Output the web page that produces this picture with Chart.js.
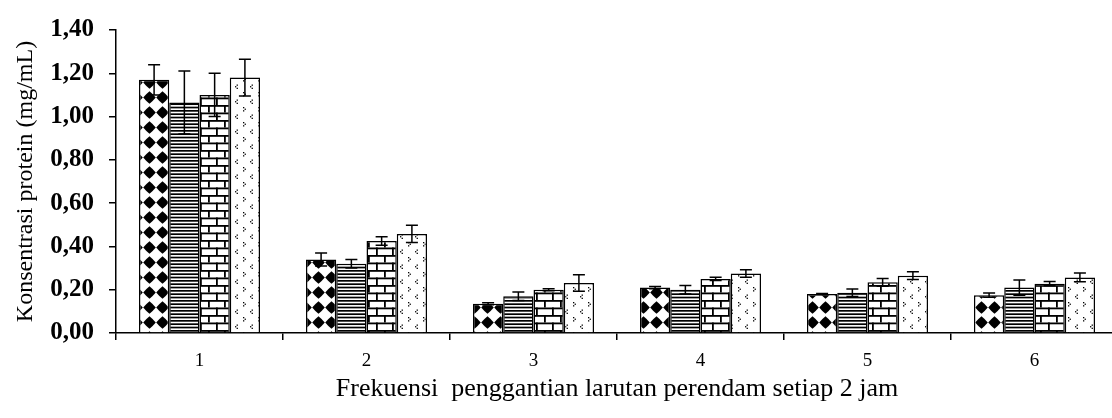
<!DOCTYPE html>
<html>
<head>
<meta charset="utf-8">
<script src="https://cdn.jsdelivr.net/npm/chart.js@4/dist/chart.umd.min.js"></script>
<style>
  html, body { margin: 0; padding: 0; background: #fff; overflow: hidden; }
  /* plot runs a few px past the right edge of the window, like the original */
  #wrap { width: 1118px; height: 418px; }
</style>
</head>
<body>
<div id="wrap"><canvas id="myChart"></canvas></div>
<script>
// ---- data ----
const categories = ['1', '2', '3', '4', '5', '6'];

const seriesA = [1.17, 0.34, 0.135, 0.21, 0.18, 0.175];
const seriesB = [1.065, 0.32, 0.17, 0.20, 0.186, 0.21];
const seriesC = [1.10, 0.425, 0.20, 0.25, 0.234, 0.228];
const seriesD = [1.18, 0.458, 0.231, 0.275, 0.265, 0.257];

const errA = [0.07, 0.03, 0.005, 0.005, 0.003, 0.01];
const errB = [0.145, 0.02, 0.02, 0.02, 0.017, 0.035];
const errC = [0.10, 0.02, 0.005, 0.008, 0.018, 0.01];
const errD = [0.085, 0.04, 0.038, 0.017, 0.018, 0.02];

const yTicks = [0, 0.2, 0.4, 0.6, 0.8, 1.0, 1.2, 1.4];

// =======================
// FILL PATTERNS
// =======================
function tile(w, h) {
    const c = document.createElement('canvas');
    c.width = w; c.height = h;
    const g = c.getContext('2d');
    g.fillStyle = '#fff';
    g.fillRect(0, 0, w, h);
    g.fillStyle = '#000';
    return [c, g];
}

function diamondPattern(ctx) {
    const [c, g] = tile(13, 15);
    const cx = 6.5, cy = 7.5, r = 6.3;
    const k = r * 0.55;
    g.beginPath();
    g.moveTo(cx, cy - r);
    g.quadraticCurveTo(cx + k, cy - k, cx + r, cy);
    g.quadraticCurveTo(cx + k, cy + k, cx, cy + r);
    g.quadraticCurveTo(cx - k, cy + k, cx - r, cy);
    g.quadraticCurveTo(cx - k, cy - k, cx, cy - r);
    g.fill();
    return ctx.createPattern(c, 'repeat');
}

function stripePattern(ctx) {
    const [c, g] = tile(4, 10);
    g.fillRect(0, 0, 4, 1.7);
    g.fillRect(0, 3.33, 4, 1.7);
    g.fillRect(0, 6.67, 4, 1.7);
    return ctx.createPattern(c, 'repeat');
}

function brickPattern(ctx) {
    const [c, g] = tile(16, 15);
    g.fillRect(0, 0, 16, 1.8);
    g.fillRect(0, 7.5, 16, 1.8);
    g.fillRect(0, 0, 1.8, 7.5);
    g.fillRect(8, 7.5, 1.8, 7.5);
    return ctx.createPattern(c, 'repeat');
}

function dotPattern(ctx) {
    const [c, g] = tile(15, 15);
    // ">" mark
    g.fillRect(3, 2, 1.3, 1.3);
    g.fillRect(4.6, 3.6, 1.3, 1.3);
    g.fillRect(3, 5.2, 1.3, 1.3);
    // "<" mark
    g.fillRect(11.6, 9.5, 1.3, 1.3);
    g.fillRect(10, 11.1, 1.3, 1.3);
    g.fillRect(11.6, 12.7, 1.3, 1.3);
    return ctx.createPattern(c, 'repeat');
}

// =======================
// ERROR BARS
// =======================
const errorBars = {
    id: 'errorBars',
    afterDatasetsDraw(chart) {
        const ctx = chart.ctx;
        const y = chart.scales.y;
        ctx.save();
        ctx.strokeStyle = '#000';
        ctx.lineWidth = 1.5;
        chart.data.datasets.forEach((ds, i) => {
            const meta = chart.getDatasetMeta(i);
            meta.data.forEach((bar, j) => {
                const v = ds.data[j], e = ds.err[j];
                const top = y.getPixelForValue(v + e);
                const bot = y.getPixelForValue(v - e);
                const x = bar.x;
                ctx.beginPath();
                ctx.moveTo(x, top); ctx.lineTo(x, bot);
                ctx.moveTo(x - 6, top); ctx.lineTo(x + 6, top);
                ctx.moveTo(x - 6, bot); ctx.lineTo(x + 6, bot);
                ctx.stroke();
            });
        });
        ctx.restore();
    }
};

// =======================
// CHART
// =======================
const canvas = document.getElementById('myChart');
const ctx = canvas.getContext('2d');

const serif = "'Liberation Serif', 'Times New Roman', serif";

function barSet(data, err, pattern) {
    return {
        data,
        err,
        backgroundColor: pattern,
        borderColor: '#000',
        borderWidth: 1.5,
        barPercentage: 1,
        categoryPercentage: 0.725
    };
}

new Chart(ctx, {
    type: 'bar',
    data: {
        labels: categories,
        datasets: [
            barSet(seriesA, errA, diamondPattern(ctx)),
            barSet(seriesB, errB, stripePattern(ctx)),
            barSet(seriesC, errC, brickPattern(ctx)),
            barSet(seriesD, errD, dotPattern(ctx))
        ]
    },
    options: {
        responsive: true,
        maintainAspectRatio: false,
        animation: false,
        layout: { padding: { top: 24, right: 0, bottom: 0, left: 0 } },
        plugins: { legend: { display: false }, tooltip: { enabled: false } },
        scales: {
            x: {
                grid: { offset: true, drawOnChartArea: false, drawTicks: true, tickLength: 7, color: '#000', lineWidth: 1.5 },
                border: { color: '#000', width: 1.5 },
                ticks: { color: '#000', padding: 10, font: { family: serif, size: 19 } },
                title: {
                    display: true,
                    text: 'Frekuensi  penggantian larutan perendam setiap 2 jam',
                    color: '#000',
                    font: { family: serif, size: 26 },
                    padding: { top: 0, bottom: 13 }
                },
                afterFit(scale) { scale.height = 85; }
            },
            y: {
                min: 0,
                max: 1.4,
                afterBuildTicks(scale) { scale.ticks = yTicks.map(v => ({ value: v })); },
                grid: { drawOnChartArea: false, drawTicks: true, tickLength: 7, color: '#000', lineWidth: 1.5 },
                border: { color: '#000', width: 1.5 },
                ticks: {
                    color: '#000',
                    padding: 15,
                    font: { family: serif, size: 25, weight: 'bold' },
                    callback: v => Number(v).toFixed(2).replace('.', ',')
                },
                title: {
                    display: true,
                    text: 'Konsentrasi protein (mg/mL)',
                    color: '#000',
                    font: { family: serif, size: 24 },
                    padding: { top: 11, bottom: 0 }
                },
                afterFit(scale) { scale.width = 116; }
            }
        }
    },
    plugins: [errorBars]
});
</script>
</body>
</html>
